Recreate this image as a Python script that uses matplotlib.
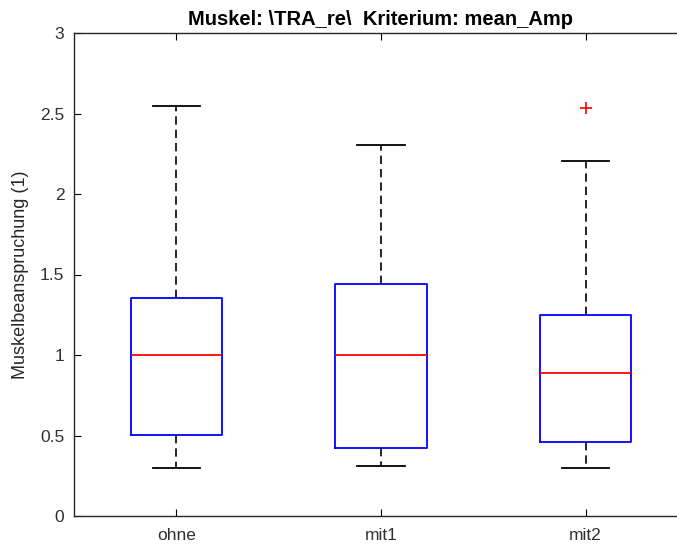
import matplotlib
matplotlib.use("Agg")
import matplotlib.pyplot as plt

plt.rcParams['font.family'] = ['Liberation Sans', 'DejaVu Sans']

# Boxplot summary per condition
labels = ['ohne', 'mit1', 'mit2']
medians = [1.0, 1.0, 0.89]
q1 = [0.505, 0.425, 0.46]
q3 = [1.357, 1.441, 1.246]
whisker_lo = [0.30, 0.31, 0.30]
whisker_hi = [2.548, 2.307, 2.206]
outliers = [[], [], [2.533]]

stats = []
for i in range(len(labels)):
    stats.append(dict(label=labels[i], med=medians[i], q1=q1[i], q3=q3[i],
                      whislo=whisker_lo[i], whishi=whisker_hi[i],
                      fliers=outliers[i]))

fig = plt.figure(figsize=(6.77, 5.48), dpi=100)
ax = fig.add_axes([74 / 677, 32 / 548, 614 / 677, 483 / 548])

ax.bxp(stats, positions=[1, 2, 3], widths=0.445, capwidths=0.23,
       boxprops=dict(color='blue', linewidth=1.3),
       medianprops=dict(color='red', linewidth=1.3),
       whiskerprops=dict(color='black', linestyle=(0, (5, 3)), linewidth=1.2),
       capprops=dict(color='black', linewidth=1.3),
       flierprops=dict(marker='+', markeredgecolor='red', markersize=9,
                       markeredgewidth=1.2, linestyle='none'))

ax.set_xlim(0.5, 3.5)
ax.set_ylim(0, 3)
ax.set_yticks([0, 0.5, 1, 1.5, 2, 2.5, 3])
ax.set_yticklabels(['0', '0.5', '1', '1.5', '2', '2.5', '3'])
ax.set_xticks([1, 2, 3])
ax.set_xticklabels(labels)
ax.tick_params(direction='in', top=True, right=True, length=5, width=0.8,
               labelsize=12.5, labelcolor='#303030')
ax.tick_params(axis='x', pad=9)
ax.tick_params(axis='y', pad=7)
for s in ax.spines.values():
    s.set_color('#262626')
    s.set_linewidth(1.0)

ax.set_ylabel('Muskelbeanspruchung (1)', fontsize=13, color='#262626', labelpad=8)
ax.set_title('Muskel: \\TRA_re\\  Kriterium: mean_Amp', fontsize=14.5,
             fontweight='bold', pad=6)

fig.savefig('out.png', dpi=100)
